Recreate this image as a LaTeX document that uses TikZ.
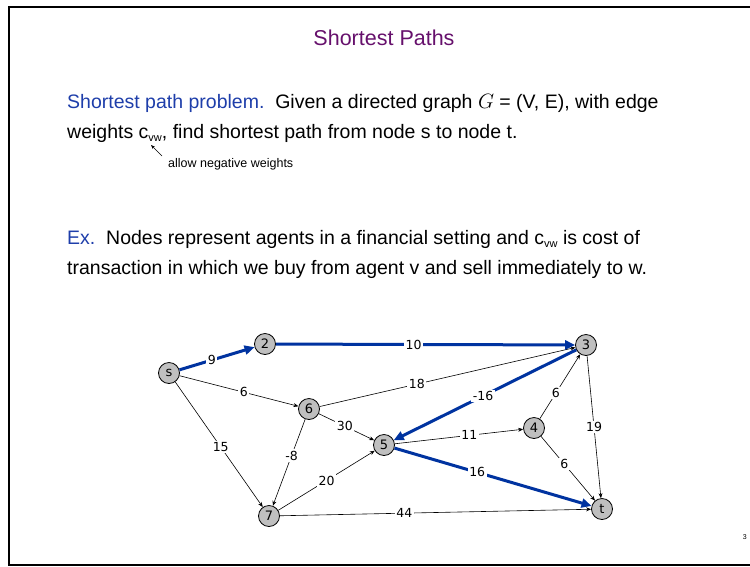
\documentclass[tikz,border=0pt]{standalone}
\usepackage{fontspec}
\setmainfont{Liberation Sans}
\newfontfamily\graphfont{DejaVu Sans}
\usetikzlibrary{arrows.meta}
\definecolor{titlepurple}{RGB}{102,16,108}
\definecolor{headblue}{RGB}{30,62,170}
\definecolor{pathblue}{RGB}{0,51,160}
\begin{document}
\begin{tikzpicture}[x=1pt,y=-1pt,
  vertex/.style={circle,draw=black,line width=0.8pt,fill=gray!50,minimum size=21pt,inner sep=0pt,font=\graphfont\fontsize{13}{13}\selectfont},
  thinedge/.style={draw=black,line width=0.6pt,-{Stealth[length=5pt,width=4pt]}},
  pathedge/.style={draw=pathblue,line width=3pt,-{Triangle[length=10pt,width=9pt]}},
  wlabel/.style={fill=white,inner sep=1.5pt,font=\graphfont\fontsize{12.5}{12.5}\selectfont},
  body/.style={anchor=base west,inner sep=0pt,font=\fontsize{19.5}{19.5}\selectfont}]
\useasboundingbox (0,0) rectangle (750,566);
\draw[line width=2.5pt] (752,7) -- (9,7) -- (9,565) -- (752,565);

% text
\node[anchor=base,inner sep=0pt,text=titlepurple,font=\fontsize{21.5}{21.5}\selectfont] (title) at (384,45) {Shortest Paths};
\node[body] (p1) at (67,108) {\textcolor{headblue}{Shortest path problem.}\ \ Given a directed graph $G$ = (V, E), with edge};
\node[body] (p2) at (67,138) {weights c\raisebox{-3.5pt}{\fontsize{11}{11}\selectfont vw}, find shortest path from node s to node t.};
\node[anchor=base west,inner sep=0pt,font=\fontsize{12.5}{12.5}\selectfont] (note) at (168,167) {allow negative weights};
\coordinate (nfrom) at (162,156);
\coordinate (nto) at (151,145);
\draw[line width=0.5pt,-{Stealth[length=4pt,width=3pt]}] (nfrom) -- (nto);
\node[body] (e1) at (67,244) {\textcolor{headblue}{Ex.}\ \ Nodes represent agents in a financial setting and c\raisebox{-3.5pt}{\fontsize{11}{11}\selectfont vw} is cost of};
\node[body] (e2) at (67,274) {transaction in which we buy from agent v and sell immediately to w.};
\node[anchor=base east,inner sep=0pt,font=\fontsize{7}{7}\selectfont] (pg) at (747,539) {3};

% graph
\node[vertex] (s) at (169,373) {s};
\node[vertex] (n2) at (265,344) {2};
\node[vertex] (n3) at (586,345) {3};
\node[vertex] (n6) at (309,409) {6};
\node[vertex] (n5) at (384,445) {5};
\node[vertex] (n4) at (534,428) {4};
\node[vertex] (n7) at (269,516) {7};
\node[vertex] (t) at (602,509) {t};

\draw[thinedge] (s) -- node[wlabel,pos=0.54] (w6a) {6} (n6);
\draw[thinedge] (n6) -- node[wlabel,pos=0.38] (w18) {18} (n3);
\draw[thinedge] (n6) -- node[wlabel,pos=0.47] (w30) {30} (n5);
\draw[thinedge] (n6) -- node[wlabel,pos=0.42] (w8) {-8} (n7);
\draw[thinedge] (s) -- node[wlabel,pos=0.52] (w15) {15} (n7);
\draw[thinedge] (n7) -- node[wlabel,pos=0.50] (w20) {20} (n5);
\draw[thinedge] (n5) -- node[wlabel,pos=0.58] (w11) {11} (n4);
\draw[thinedge] (n4) -- node[wlabel,pos=0.40] (w6b) {6} (n3);
\draw[thinedge] (n4) -- node[wlabel,pos=0.43] (w6c) {6} (t);
\draw[thinedge] (n3) -- node[wlabel,pos=0.50] (w19) {19} (t);
\draw[thinedge] (n7) -- node[wlabel,pos=0.40] (w44) {44} (t);
\draw[pathedge] (s) -- node[wlabel,pos=0.43] (w9) {9} (n2);
\draw[pathedge] (n2) -- node[wlabel,pos=0.46] (w10) {10} (n3);
\draw[pathedge] (n3) -- node[wlabel,pos=0.51] (w16a) {-16} (n5);
\draw[pathedge] (n5) -- node[wlabel,pos=0.42] (w16b) {16} (t);
\end{tikzpicture}
\end{document}
